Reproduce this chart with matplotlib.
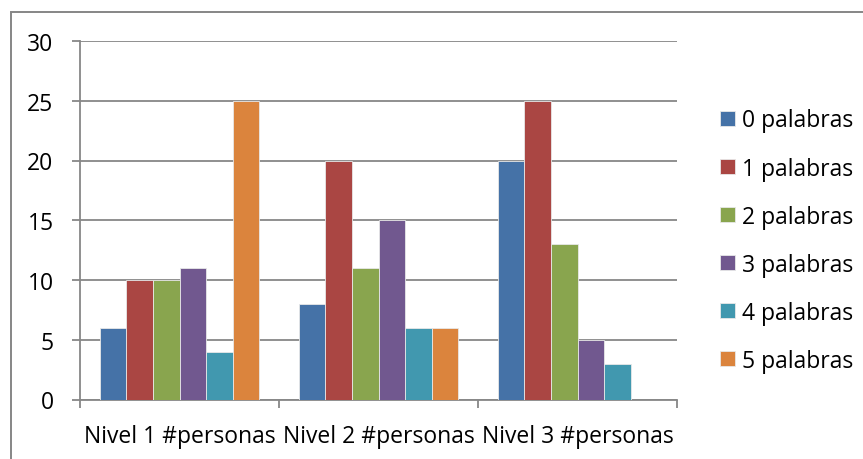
import matplotlib
matplotlib.use("Agg")
import matplotlib.pyplot as plt
import numpy as np
from matplotlib.patches import Rectangle

categories = ["Nivel 1 #personas", "Nivel 2 #personas", "Nivel 3 #personas"]
series_names = ["0 palabras", "1 palabras", "2 palabras", "3 palabras", "4 palabras", "5 palabras"]
values = {
    "0 palabras": [6, 8, 20],
    "1 palabras": [10, 20, 25],
    "2 palabras": [10, 11, 13],
    "3 palabras": [11, 15, 5],
    "4 palabras": [4, 6, 3],
    "5 palabras": [25, 6, 0],
}
colors = ["#4572A7", "#AA4643", "#89A54E", "#71588F", "#4198AF", "#DB843D"]
y_ticks = [0, 5, 10, 15, 20, 25, 30]

plt.rcParams["font.family"] = ["Open Sans", "DejaVu Sans"]
FS = 16.5

fig = plt.figure(figsize=(8.63, 4.6), dpi=100)
ax = fig.add_axes([80 / 863, 1 - 400.5 / 460, 597 / 863, 358.5 / 460])

# outer chart frame
fig.patches.append(Rectangle((11 / 863, -0.1), 1.2, 1 - 13 / 460 + 0.1,
                             transform=fig.transFigure, fill=False,
                             edgecolor="#868686", linewidth=1.4))

n = len(series_names)
gap = 1.5
bw = 1.0 / (n + gap)
x = np.arange(len(categories))
for i, (name, col) in enumerate(zip(series_names, colors)):
    offs = (i - (n - 1) / 2) * bw
    ax.bar(x + offs, values[name], width=bw, color=col, edgecolor="#e8e8e8",
           linewidth=0.6, label=name, zorder=3)

ax.set_xlim(-0.5, len(categories) - 0.5)
ax.set_ylim(0, 30)
ax.set_yticks(y_ticks)
ax.yaxis.grid(True, color="#878787", linewidth=1.3, zorder=0)
ax.set_axisbelow(True)

ax.set_xticks(x)
ax.set_xticklabels(categories)
ax.set_xticks(np.arange(len(categories) + 1) - 0.5, minor=True)
ax.tick_params(axis="x", which="major", length=0, pad=18, labelsize=FS)
ax.tick_params(axis="x", which="minor", length=6, width=1.3, color="#878787")
ax.tick_params(axis="y", length=6, width=1.3, color="#878787", pad=13, labelsize=FS)

for s in ["top", "right"]:
    ax.spines[s].set_visible(False)
for s in ["left", "bottom"]:
    ax.spines[s].set_color("#878787")
    ax.spines[s].set_linewidth(1.3)

leg = ax.legend(loc="upper left", bbox_to_anchor=(709 / 863, 1 - 98 / 460),
                bbox_transform=fig.transFigure, frameon=False, fontsize=FS,
                handlelength=0.65, handleheight=0.65, handletextpad=0.3,
                labelspacing=1.05, borderpad=0)

fig.savefig("out.png", dpi=100, facecolor="white")
